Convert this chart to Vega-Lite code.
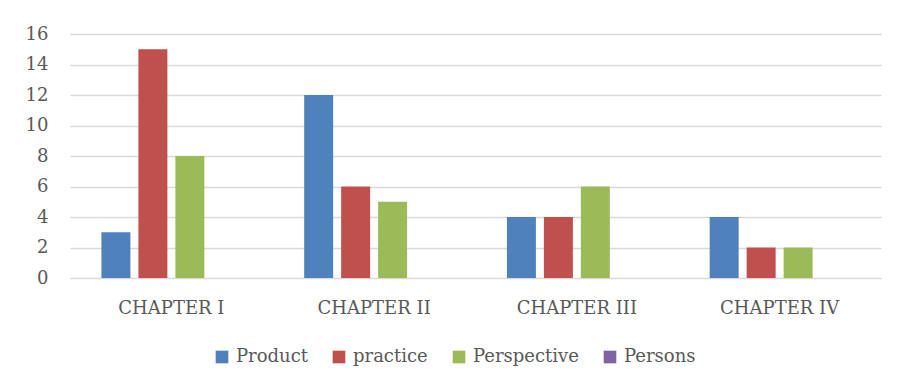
{
  "$schema": "https://vega.github.io/schema/vega-lite/v6.json",
  "autosize": {"type": "none"},
  "width": 811,
  "height": 244,
  "padding": {"left": 70, "top": 34, "right": 16, "bottom": 114},
  "background": "white",
  "data": {
    "values": [
      {"chapter": "CHAPTER I", "series": "Product", "value": 3},
      {"chapter": "CHAPTER I", "series": "practice", "value": 15},
      {"chapter": "CHAPTER I", "series": "Perspective", "value": 8},
      {"chapter": "CHAPTER I", "series": "Persons", "value": 0},
      {"chapter": "CHAPTER II", "series": "Product", "value": 12},
      {"chapter": "CHAPTER II", "series": "practice", "value": 6},
      {"chapter": "CHAPTER II", "series": "Perspective", "value": 5},
      {"chapter": "CHAPTER II", "series": "Persons", "value": 0},
      {"chapter": "CHAPTER III", "series": "Product", "value": 4},
      {"chapter": "CHAPTER III", "series": "practice", "value": 4},
      {"chapter": "CHAPTER III", "series": "Perspective", "value": 6},
      {"chapter": "CHAPTER III", "series": "Persons", "value": 0},
      {"chapter": "CHAPTER IV", "series": "Product", "value": 4},
      {"chapter": "CHAPTER IV", "series": "practice", "value": 2},
      {"chapter": "CHAPTER IV", "series": "Perspective", "value": 2},
      {"chapter": "CHAPTER IV", "series": "Persons", "value": 0}
    ]
  },
  "mark": {"type": "bar"},
  "encoding": {
    "x": {
      "field": "chapter",
      "type": "nominal",
      "sort": ["CHAPTER I", "CHAPTER II", "CHAPTER III", "CHAPTER IV"],
      "scale": {"paddingInner": 0.31, "paddingOuter": 0.155},
      "axis": {
        "title": null,
        "labelAngle": 0,
        "ticks": false,
        "domain": false,
        "labelPadding": 21
      }
    },
    "xOffset": {
      "field": "series",
      "sort": ["Product", "practice", "Perspective", "Persons"],
      "scale": {"paddingInner": 0.216, "paddingOuter": 0}
    },
    "y": {
      "field": "value",
      "type": "quantitative",
      "scale": {"domain": [0, 16]},
      "axis": {
        "title": null,
        "values": [0, 2, 4, 6, 8, 10, 12, 14, 16],
        "labelOverlap": false,
        "ticks": false,
        "domain": false,
        "labelPadding": 22,
        "gridColor": "#D9D9D9",
        "gridWidth": 1.5
      }
    },
    "color": {
      "field": "series",
      "type": "nominal",
      "sort": ["Product", "practice", "Perspective", "Persons"],
      "scale": {
        "domain": ["Product", "practice", "Perspective", "Persons"],
        "range": ["#4F81BD", "#C0504D", "#9BBB59", "#8064A2"]
      },
      "legend": {
        "title": null,
        "orient": "none",
        "legendX": 143,
        "legendY": 314,
        "direction": "horizontal",
        "symbolType": "square",
        "symbolSize": 160,
        "symbolStrokeWidth": 0,
        "labelOffset": 5,
        "columnPadding": 22
      }
    }
  },
  "config": {
    "font": "DejaVu Serif",
    "view": {"stroke": null},
    "axis": {
      "labelFont": "DejaVu Serif",
      "labelFontSize": 18,
      "labelColor": "#595959"
    },
    "legend": {
      "labelFont": "DejaVu Serif",
      "labelFontSize": 18,
      "labelColor": "#595959",
      "labelLimit": 300
    }
  }
}
